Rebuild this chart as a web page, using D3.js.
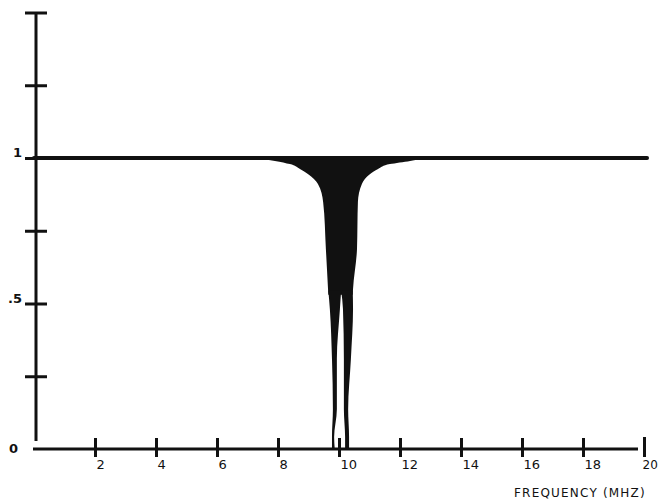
<!DOCTYPE html>
<html>
<head>
<meta charset="utf-8">
<script src="https://cdn.jsdelivr.net/npm/d3@7"></script>
<style>
  html, body { margin: 0; padding: 0; background: #fff; }
  svg { display: block; }
  text { font-family: "DejaVu Sans", sans-serif; fill: #111; }
</style>
</head>
<body>
<svg id="chart" width="658" height="504"></svg>
<script>
// ---- data ----
const xTickValues = [2, 4, 6, 8, 10, 12, 14, 16, 18, 20];
const xTickLabels = ["2", "4", "6", "8", "10", "12", "14", "16", "18", "20"];
const yTickValues = [0.25, 0.5, 0.75, 1, 1.25, 1.5];
const yLabelValues = [0, 0.5, 1];
const yLabelTexts = ["0", ".5", "1"];
const xTitle = "FREQUENCY (MHZ)";

// flat response (value 1 across band)
const flatFreq = [0, 20.1];
const flatValue = [1, 1];

// upper part of notch: level -> left / right edge frequency
const notchLevels = [1.0, 0.99, 0.979, 0.962, 0.945, 0.911, 0.849, 0.687, 0.55, 0.53];
const notchLeft   = [7.25, 7.9, 8.39, 8.72, 8.98, 9.31, 9.48, 9.57, 9.64, 9.65];
const notchRight  = [12.82, 12.33, 11.67, 11.28, 11.02, 10.75, 10.62, 10.59, 10.46, 10.45];

// lower part: two lobes separated by a gap near 10 MHz
const lobeLevels     = [0.545, 0.481, 0.309, 0.137, 0.041, 0.0];
const leftLobeOuter  = [9.65, 9.70, 9.77, 9.80, 9.77, 9.77];
const leftLobeInner  = [10.07, 10.03, 9.93, 9.93, 9.84, 9.86];
const rightLobeInner = [10.07, 10.13, 10.16, 10.16, 10.20, 10.20];
const rightLobeOuter = [10.45, 10.46, 10.39, 10.30, 10.33, 10.33];

// ---- drawing ----
const svg = d3.select("#chart");
const ink = "#111";

const x = d3.scaleLinear().domain([0, 20]).range([34, 644]);
const y = d3.scaleLinear().domain([0, 1.5]).range([449, 12.5]);

// notch areas (y is the independent variable)
const areaY = d3.area()
  .y(d => y(d.v))
  .x0(d => x(d.a))
  .x1(d => x(d.b))
  .curve(d3.curveMonotoneY);

const notchData = notchLevels.map((v, i) => ({v, a: notchLeft[i], b: notchRight[i]}));
const leftLobe = lobeLevels.map((v, i) => ({v, a: leftLobeOuter[i], b: leftLobeInner[i]}));
const rightLobe = lobeLevels.map((v, i) => ({v, a: rightLobeInner[i], b: rightLobeOuter[i]}));

svg.append("path").attr("d", areaY(notchData)).attr("fill", ink);
svg.append("path").attr("d", areaY(leftLobe)).attr("fill", ink);
svg.append("path").attr("d", areaY(rightLobe)).attr("fill", ink);

// flat line at 1
const line = d3.line().x(d => x(d[0])).y(d => y(d[1]));
svg.append("path")
  .attr("d", line(flatFreq.map((f, i) => [f, flatValue[i]])))
  .attr("stroke", ink).attr("stroke-width", 4).attr("fill", "none")
  .attr("stroke-linecap", "round");

// Y axis
const yAxisX = 36;
const yAxis = d3.axisLeft(y).tickValues(yTickValues).tickFormat("");
const gy = svg.append("g").attr("transform", `translate(${yAxisX},0)`).call(yAxis);
gy.select(".domain").remove();
gy.selectAll(".tick line")
  .attr("x1", -11).attr("x2", 11)
  .attr("stroke", ink).attr("stroke-width", 3);
svg.append("line")
  .attr("x1", yAxisX).attr("x2", yAxisX)
  .attr("y1", y(1.5)).attr("y2", y(0) - 8)
  .attr("stroke", ink).attr("stroke-width", 3);

// Y labels
svg.append("g").selectAll("text")
  .data(yLabelValues)
  .join("text")
  .attr("x", (d, i) => i === 0 ? 18 : 22)
  .attr("y", d => y(d) + (d === 0 ? 4 : -1))
  .attr("text-anchor", "end")
  .attr("font-size", 13)
  .attr("font-weight", "bold")
  .text((d, i) => yLabelTexts[i]);

// X axis
svg.append("line")
  .attr("x1", 33).attr("x2", 638)
  .attr("y1", y(0)).attr("y2", y(0))
  .attr("stroke", ink).attr("stroke-width", 3);
const xAxis = d3.axisBottom(x).tickValues(xTickValues).tickFormat((d, i) => xTickLabels[i]);
const gx = svg.append("g").attr("transform", `translate(0,${y(0)})`).call(xAxis);
gx.select(".domain").remove();
gx.selectAll(".tick line")
  .attr("y1", (d) => d === 20 ? -12 : -11)
  .attr("y2", 8)
  .attr("stroke", ink).attr("stroke-width", 3);
gx.selectAll(".tick text")
  .attr("x", d => d === 20 ? -2 : 1).attr("y", 20).attr("dy", null)
  .attr("text-anchor", "start")
  .attr("font-size", d => d === 20 ? 12 : 13)
  .attr("font-family", "Liberation Sans")
  .attr("fill", ink);

// X title
svg.append("text")
  .attr("x", 514).attr("y", 497)
  .attr("font-size", 12)
  .attr("font-family", "DejaVu Sans Mono")
  .attr("letter-spacing", 1.2)
  .text(xTitle);
</script>
</body>
</html>
